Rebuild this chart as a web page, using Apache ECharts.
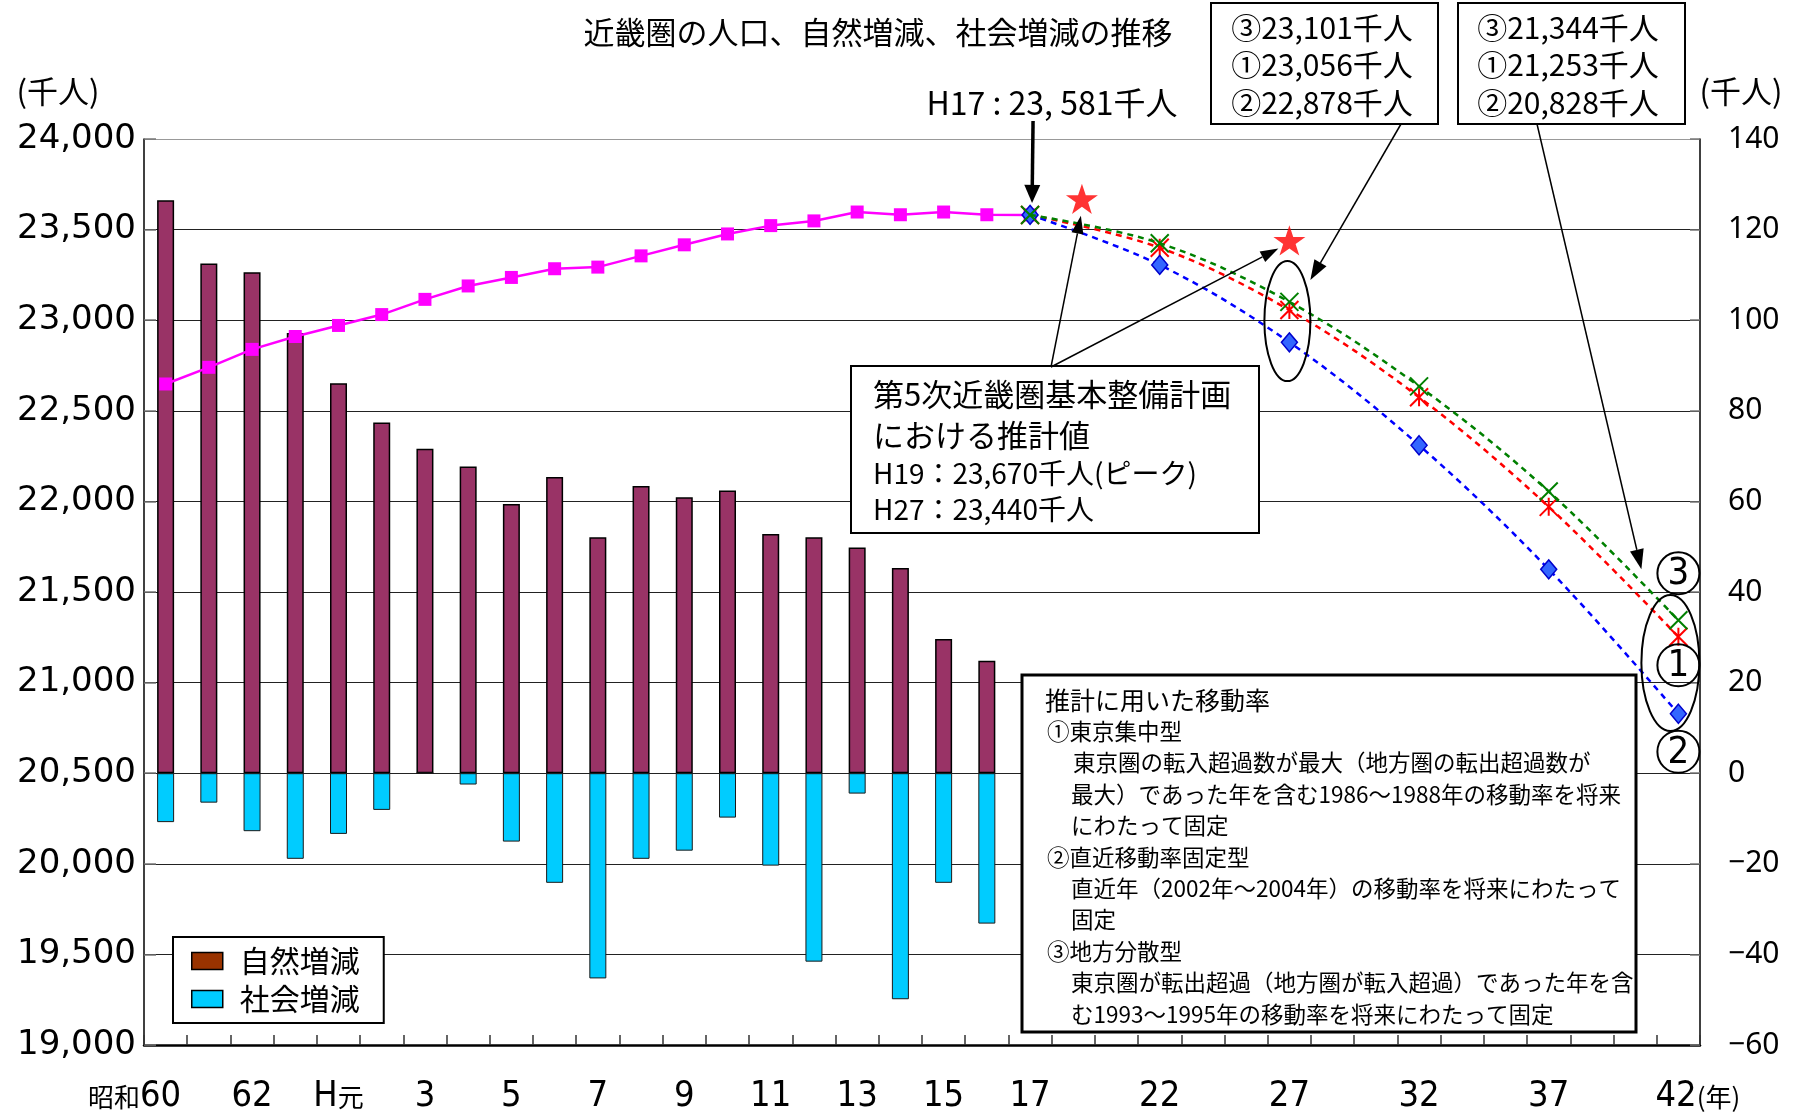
<!DOCTYPE html>
<html>
<head>
<meta charset="utf-8">
<script src="https://cdn.jsdelivr.net/npm/echarts@6/dist/echarts.min.js"></script>
<style>
  html, body { margin: 0; padding: 0; background: #fff; }
  #c { width: 1800px; height: 1115px; }
</style>
</head>
<body>
<div id="c"></div>
<script>
// Axis slots: one per year from S60 to H17, then three slots per five-year projection step
const tickLabels = ['昭和60','','62','','H元','','3','','5','','7','','9','','11','','13','','15','','17',
                    '','','22','','','27','','','32','','','37','','','42(年)'];

// Population (thousand people), S60 .. H17
const population = [22648, 22740, 22839, 22910, 22971, 23031, 23115, 23189, 23236, 23284, 23293,
                    23355, 23416, 23476, 23522, 23548, 23597, 23582, 23597, 23582, 23581];
// Natural change (thousand people), S60 .. H16
const naturalChange = [126.5, 112.5, 110.6, 97.2, 86.1, 77.4, 71.6, 67.7, 59.4, 65.4,
                       52.1, 63.4, 60.9, 62.4, 52.8, 52.1, 49.8, 45.3, 29.6, 24.8];
// Social change (thousand people), S60 .. H16
const socialChange = [-10.8, -6.5, -12.8, -18.9, -13.4, -8.1, 0, -2.5, -15.1, -24.2,
                      -45.3, -18.9, -17.1, -9.8, -20.4, -41.6, -4.5, -49.9, -24.2, -33.2];

// Projections (H17 .. H42)
const projLabels = ['17', '22', '27', '32', '37', '42(年)'];
const projYears = [17, 22, 27, 32, 37, 42];
const projTokyo  = [23581, 23400, 23056, 22575, 21970, 21253]; // ① 東京集中型
const projRecent = [23581, 23305, 22878, 22310, 21625, 20828]; // ② 直近移動率固定型
const projLocal  = [23581, 23425, 23101, 22635, 22055, 21344]; // ③ 地方分散型

// 第5次近畿圏基本整備計画 estimates
const planYears = [19, 27];
const planValues = [23670, 23440];

const projSlots = projLabels.map(l => tickLabels.indexOf(l));
function yearToSlot(yr) {
  for (let k = 0; k < projYears.length - 1; k++) {
    if (yr >= projYears[k] && yr <= projYears[k + 1]) {
      const t = (yr - projYears[k]) / (projYears[k + 1] - projYears[k]);
      return projSlots[k] + t * (projSlots[k + 1] - projSlots[k]);
    }
  }
  return projSlots[projSlots.length - 1];
}
const pairs = arr => arr.map((v, k) => [projSlots[k], v]);
const fmt = v => v.toLocaleString('en-US');

const JP = '"Noto Sans CJK JP", "Noto Sans", sans-serif';
const NARROW = '"Liberation Sans Narrow", "Arial Narrow", "DejaVu Sans Condensed", "Noto Sans CJK JP", sans-serif';

const XMARK = 'path://M0,0L10,10M10,0L0,10';
const ASTER = 'path://M0,0L10,10M10,0L0,10M5,0L5,10';
const STAR = 'path://M50,0L61.8,35.4L99,35.4L69,57.3L80.3,92.7L50,70.8L19.7,92.7L31,57.3L1,35.4L38.2,35.4Z';

const chart = echarts.init(document.getElementById('c'), null, { renderer: 'canvas' });

const gridColors = ['#000', '#222', '#222', '#222', '#222', '#222', '#222', '#222', '#222', '#222', '#999'];

function xLabel(v) {
  const t = tickLabels[+v];
  if (!t) return '';
  if (t === '昭和60') return '{s|昭和}{n|60}{g1|}';
  if (t === 'H元') return '{n|H}{s|元}';
  if (t.indexOf('(年)') >= 0) return '{g2|}{n|' + t.replace('(年)', '') + '}{s|(年)}';
  return '{n|' + t + '}';
}

chart.setOption({
  animation: false,
  backgroundColor: '#fff',
  textStyle: { fontFamily: JP },
  grid: { left: 144, right: 100, top: 139, bottom: 64, containLabel: false },
  legend: {
    left: 173, top: 937, orient: 'vertical',
    padding: [9, 24, 9, 18], itemGap: 8, itemWidth: 31, itemHeight: 17,
    backgroundColor: '#fff', borderColor: '#000', borderWidth: 2,
    textStyle: { fontSize: 30, color: '#000', fontFamily: JP, padding: [0, 0, 0, 12] },
    data: [
      { name: '自然増減', icon: 'rect', itemStyle: { color: '#993300', borderColor: '#000', borderWidth: 1.5 } },
      { name: '社会増減', icon: 'rect', itemStyle: { color: '#00CCFF', borderColor: '#000', borderWidth: 1.5 } }
    ]
  },
  xAxis: [
    {
      type: 'category',
      data: tickLabels.map((t, i) => String(i)),
      boundaryGap: true,
      axisLine: { show: true, onZero: false, lineStyle: { color: '#000', width: 2.5 } },
      axisTick: { show: true, inside: true, length: 10, interval: 0, lineStyle: { color: '#333', width: 1.5 } },
      axisLabel: {
        interval: 0, margin: 32, color: '#000',
        formatter: xLabel,
        rich: {
          n: { fontFamily: NARROW, fontSize: 36, lineHeight: 40, color: '#000' },
          s: { fontFamily: JP, fontSize: 26, lineHeight: 40, color: '#000' },
          g1: { width: 62, lineHeight: 40 },
          g2: { width: 39, lineHeight: 40 }
        }
      },
      splitLine: { show: false }
    },
    { type: 'value', min: -0.5, max: 35.5, show: false, position: 'bottom' }
  ],
  yAxis: [
    {
      type: 'value', min: 19000, max: 24000, interval: 500, position: 'left',
      axisLine: { show: true, onZero: false, lineStyle: { color: '#000', width: 1.5 } },
      axisTick: { show: true, inside: true, length: 12, lineStyle: { color: '#777', width: 1.5 } },
      axisLabel: { formatter: v => fmt(v), fontSize: 34, color: '#000', margin: 8, fontFamily: '"DejaVu Sans", sans-serif' },
      splitLine: { show: true, lineStyle: { color: gridColors, width: 1.2 } }
    },
    {
      type: 'value', min: -60, max: 140, interval: 20, position: 'right',
      axisLine: { show: true, onZero: false, lineStyle: { color: '#000', width: 1.5 } },
      axisTick: { show: true, inside: true, length: 10, lineStyle: { color: '#777', width: 1.5 } },
      axisLabel: { formatter: v => (v < 0 ? '\u2212' + (-v) : String(v)), fontSize: 30, color: '#000', margin: 28, fontFamily: '"Noto Sans", sans-serif' },
      splitLine: { show: false }
    }
  ],
  series: [
    {
      name: '自然増減', type: 'bar', xAxisIndex: 0, yAxisIndex: 1,
      data: naturalChange, barWidth: 17, barGap: '-100%',
      itemStyle: { color: '#993366', borderColor: '#000', borderWidth: 1.5 }, z: 2
    },
    {
      name: '社会増減', type: 'bar', xAxisIndex: 0, yAxisIndex: 1,
      data: socialChange, barWidth: 17, barGap: '-100%',
      itemStyle: { color: '#00CCFF', borderColor: '#1a1a1a', borderWidth: 1 }, z: 2
    },
    {
      name: '人口', type: 'line', xAxisIndex: 0, yAxisIndex: 0,
      data: population, symbol: 'rect', symbolSize: 13,
      itemStyle: { color: '#FF00FF' }, lineStyle: { color: '#FF00FF', width: 2.5 }, z: 3
    },
    {
      name: '①', type: 'line', xAxisIndex: 0, yAxisIndex: 0,
      data: pairs(projTokyo), smooth: 0.35, symbol: ASTER, symbolSize: 18,
      itemStyle: { color: '#FF0000', borderColor: '#FF0000', borderWidth: 2 },
      lineStyle: { color: '#FF0000', width: 2.5, type: [6, 5] }, z: 4
    },
    {
      name: '②', type: 'line', xAxisIndex: 0, yAxisIndex: 0,
      data: pairs(projRecent), smooth: 0.35, symbol: 'diamond', symbolSize: [16, 19],
      itemStyle: { color: '#3366FF', borderColor: '#0000CC', borderWidth: 1.5 },
      lineStyle: { color: '#0000FF', width: 2.5, type: [6, 5] }, z: 5
    },
    {
      name: '③', type: 'line', xAxisIndex: 0, yAxisIndex: 0,
      data: pairs(projLocal), smooth: 0.35, symbol: XMARK, symbolSize: 18,
      itemStyle: { color: '#008000', borderColor: '#008000', borderWidth: 2 },
      lineStyle: { color: '#008000', width: 2.5, type: [6, 5] }, z: 6
    },
    {
      name: '計画値', type: 'scatter', xAxisIndex: 1, yAxisIndex: 0,
      data: planYears.map((y, k) => [yearToSlot(y), planValues[k]]),
      symbol: STAR, symbolSize: 32, symbolKeepAspect: true,
      itemStyle: { color: '#FF0000' }, z: 7
    }
  ]
});

// ---- annotations ----
const px = (slot, v) => chart.convertToPixel({ xAxisIndex: 1, yAxisIndex: 0 }, [slot, v]);

function text(x, y, str, size, opt) {
  opt = opt || {};
  return {
    type: 'text', x: x, y: y, z: 100,
    style: {
      text: str, fill: '#000', fontSize: size, fontFamily: opt.font || JP,
      align: opt.align || 'center', verticalAlign: 'middle', fontWeight: opt.weight || 'normal'
    }
  };
}
function box(x, y, w, h, lw) {
  return { type: 'rect', z: 99, shape: { x: x, y: y, width: w, height: h },
           style: { fill: '#fff', stroke: '#000', lineWidth: lw } };
}
function arrow(x1, y1, x2, y2, lw, hl, hw) {
  const dx = x2 - x1, dy = y2 - y1, L = Math.hypot(dx, dy);
  const ux = dx / L, uy = dy / L, bx = x2 - ux * hl, by = y2 - uy * hl;
  const nx = -uy * hw / 2, ny = ux * hw / 2;
  return [
    { type: 'line', z: 101, shape: { x1: x1, y1: y1, x2: bx, y2: by }, style: { stroke: '#000', lineWidth: lw } },
    { type: 'polygon', z: 101, shape: { points: [[x2, y2], [bx + nx, by + ny], [bx - nx, by - ny]] }, style: { fill: '#000' } }
  ];
}
function ellipse(cx, cy, rx, ry) {
  return { type: 'ellipse', z: 100, shape: { cx: cx, cy: cy, rx: rx, ry: ry },
           style: { fill: 'none', stroke: '#000', lineWidth: 2 } };
}
function circled(cx, cy, d) {
  return [
    { type: 'circle', z: 100, shape: { cx: cx, cy: cy, r: 21 }, style: { fill: 'none', stroke: '#000', lineWidth: 2 } },
    text(cx, cy + 1, d, 38, { font: NARROW })
  ];
}

const g = [];
g.push(text(878, 32, '近畿圏の人口、自然増減、社会増減の推移', 31));
g.push(text(58, 91, '(千人)', 31));
g.push(text(1741, 91, '(千人)', 31));

// H17 actual value
const h17 = px(20, population[20]);
const h17v = population[20];
g.push(text(1052, 103, 'H17 : ' + Math.floor(h17v / 1000) + ', ' + String(h17v % 1000).padStart(3, '0') + '千人', 32));
g.push(...arrow(h17[0] + 3, 121, h17[0] + 2, h17[1] - 12, 3.5, 18, 16));

// H27 / H42 projection value boxes
g.push(box(1211, 3, 227, 121, 2));
g.push(text(1322, 28, '③' + fmt(projLocal[2]) + '千人', 30));
g.push(text(1322, 65, '①' + fmt(projTokyo[2]) + '千人', 30));
g.push(text(1322, 103, '②' + fmt(projRecent[2]) + '千人', 30));
g.push(box(1458, 3, 227, 121, 2));
g.push(text(1568, 28, '③' + fmt(projLocal[5]) + '千人', 30));
g.push(text(1568, 65, '①' + fmt(projTokyo[5]) + '千人', 30));
g.push(text(1568, 103, '②' + fmt(projRecent[5]) + '千人', 30));

// ellipse around H27 projections
const a27 = px(projSlots[2], projLocal[2]), b27 = px(projSlots[2], projRecent[2]);
const e27 = [a27[0] - 2, (a27[1] + b27[1]) / 2 - 1];
g.push(ellipse(e27[0], e27[1], 23, 60));
g.push(...arrow(1401, 124, e27[0] + 23, e27[1] - 41, 1.5, 20, 14));

// ellipse and markers at H42
const a42 = px(projSlots[5], projLocal[5]), r42 = px(projSlots[5], projTokyo[5]), b42 = px(projSlots[5], projRecent[5]);
g.push(ellipse(a42[0] - 8, (a42[1] + b42[1]) / 2 - 4, 29, 68));
const c3 = [a42[0], a42[1] - 47], c1 = [a42[0], (r42[1] + b42[1]) / 2 - 10], c2 = [a42[0], b42[1] + 38];
g.push(...circled(c3[0], c3[1], '3'));
g.push(...circled(c1[0], c1[1], '1'));
g.push(...circled(c2[0], c2[1], '2'));
g.push(...arrow(1537, 124, c3[0] - 37, c3[1] - 4, 1.5, 20, 14));

// plan estimate box and arrows to the stars
g.push(box(851, 366, 408, 167, 2));
g.push(text(873, 394, '第5次近畿圏基本整備計画', 31, { align: 'left' }));
g.push(text(873, 435, 'における推計値', 31, { align: 'left' }));
g.push(text(873, 473, 'H' + planYears[0] + '：' + fmt(planValues[0]) + '千人(ピーク)', 28, { align: 'left' }));
g.push(text(873, 509, 'H' + planYears[1] + '：' + fmt(planValues[1]) + '千人', 28, { align: 'left' }));
const s1 = px(yearToSlot(planYears[0]), planValues[0]);
const s2 = px(yearToSlot(planYears[1]), planValues[1]);
g.push(...arrow(1051, 367, s1[0] - 1, s1[1] + 17, 1.5, 18, 12));
g.push(...arrow(1051, 367, s2[0] - 11, s2[1] + 8, 1.5, 18, 12));

// migration-rate assumptions box
g.push(box(1022, 675, 614, 357, 3));
const notes = [
  [1045, '推計に用いた移動率', 25],
  [1047, '①東京集中型', 22.5],
  [1073, '東京圏の転入超過数が最大（地方圏の転出超過数が', 22.5],
  [1071, '最大）であった年を含む1986〜1988年の移動率を将来', 22.5],
  [1071, 'にわたって固定', 22.5],
  [1047, '②直近移動率固定型', 22.5],
  [1071, '直近年（2002年〜2004年）の移動率を将来にわたって', 22.5],
  [1071, '固定', 22.5],
  [1047, '③地方分散型', 22.5],
  [1071, '東京圏が転出超過（地方圏が転入超過）であった年を含', 22.5],
  [1071, 'む1993〜1995年の移動率を将来にわたって固定', 22.5]
];
notes.forEach((n, k) => g.push(text(n[0], 700 + k * 31.4, n[1], n[2], { align: 'left' })));

chart.setOption({ graphic: { elements: g } });
</script>
</body>
</html>
